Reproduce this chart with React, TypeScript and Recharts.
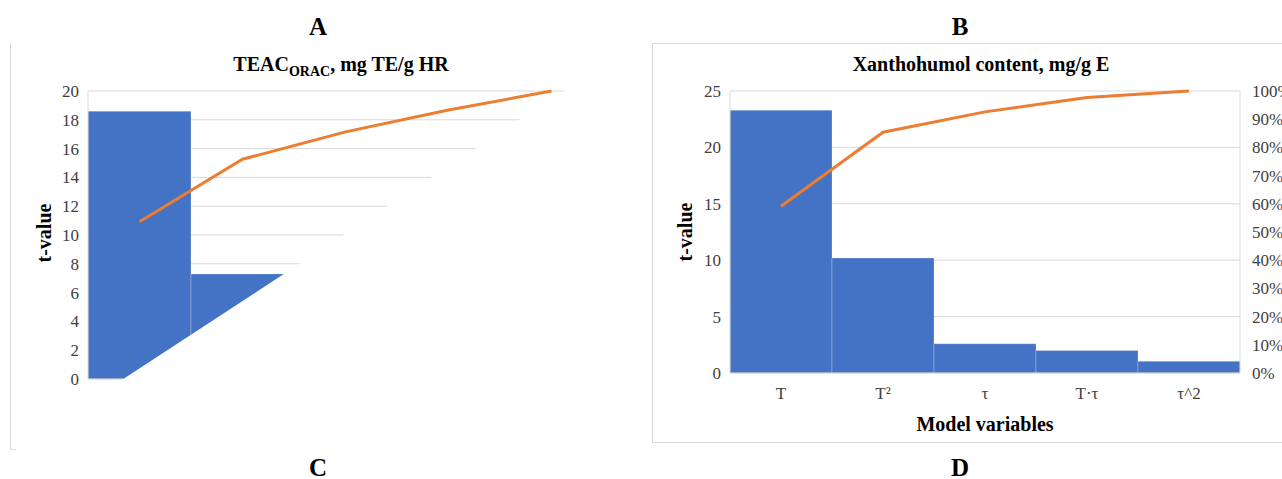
import { Bar, CartesianGrid, ComposedChart, Line, XAxis, YAxis } from 'recharts'

const VARIABLES = ['T', 'T²', 'τ', 'T·τ', 'τ^2']

// TEAC ORAC: t-values and cumulative share (%)
const TEAC_T = [18.6, 7.3, 3.4, 2.4, 2.4]
const TEAC_CUM = [54.6, 76.3, 85.8, 93.4, 100]
const TEAC_TICKS = [0, 2, 4, 6, 8, 10, 12, 14, 16, 18, 20]

// Xanthohumol content: t-values and cumulative share (%)
const XN_T = [23.3, 10.2, 2.6, 2.0, 1.04]
const XN_CUM = [59.1, 85.4, 92.6, 97.7, 100]
const XN_TICKS = [0, 5, 10, 15, 20, 25]

const PCT_TICKS = [0, 10, 20, 30, 40, 50, 60, 70, 80, 90, 100]

const FONT = '"Liberation Serif", "Times New Roman", serif'
const GRID = '#d9d9d9'
const BLUE = '#4472C4'
const ORANGE = '#ED7D31'

// serif tick text; dy places the text like the built-in ticks do
const makeTick = (dy: string, fmt: (v: any) => string = v => String(v)) => (props: any) => {
	const { x, y, payload, textAnchor } = props
	return (
		<text
			x={x}
			y={y}
			dy={dy}
			textAnchor={textAnchor}
			fill="#404040"
			style={{ fontFamily: FONT, fontSize: 17 }}
		>
			{fmt(payload.value)}
		</text>
	)
}

const xTick = makeTick('0.71em')
const tTick = makeTick('0.355em')
const pctTick = makeTick('0.355em', v => `${v}%`)

interface ParetoProps {
	width: number
	height: number
	tValues: number[]
	cumulative: number[]
	tTicks: number[]
	margin: { top: number; right: number; bottom: number; left: number }
	rightWidth: number
	// the cut-off panel only shows its left axis labels
	leftLabelsOnly?: boolean
}

const Pareto = ({ width, height, tValues, cumulative, tTicks, margin, rightWidth, leftLabelsOnly }: ParetoProps) => {
	const data = VARIABLES.map((name, i) => ({ name, t: tValues[i], cum: cumulative[i] }))
	return (
		<ComposedChart width={width} height={height} data={data} margin={margin} barCategoryGap={0}>
			<CartesianGrid yAxisId="t" vertical={false} stroke={GRID} />
			<XAxis
				dataKey="name"
				height={30}
				tickLine={false}
				tickSize={0}
				tickMargin={14}
				axisLine={{ stroke: GRID }}
				tick={leftLabelsOnly ? false : xTick}
				interval={0}
			/>
			<YAxis
				yAxisId="t"
				width={40}
				domain={[0, tTicks[tTicks.length - 1]]}
				ticks={tTicks}
				tickLine={false}
				tickSize={0}
				tickMargin={9}
				axisLine={{ stroke: GRID }}
				tick={tTick}
			/>
			<YAxis
				yAxisId="pct"
				orientation="right"
				width={rightWidth}
				domain={[0, 100]}
				ticks={PCT_TICKS}
				tickLine={false}
				tickSize={0}
				tickMargin={12}
				axisLine={{ stroke: GRID }}
				tick={leftLabelsOnly ? false : pctTick}
			/>
			<Bar
				yAxisId="t"
				dataKey="t"
				fill={BLUE}
				stroke="#ffffff"
				strokeOpacity={0.25}
				strokeWidth={1}
				isAnimationActive={false}
			/>
			<Line
				yAxisId="pct"
				dataKey="cum"
				type="linear"
				stroke={ORANGE}
				strokeWidth={3}
				dot={false}
				activeDot={false}
				isAnimationActive={false}
			/>
		</ComposedChart>
	)
}

const Letter = ({ x, y, children }: { x: number; y: number; children: string }) => (
	<div
		style={{
			position: 'absolute',
			left: x,
			top: y,
			transform: 'translateX(-50%)',
			fontSize: 25,
			lineHeight: '25px',
			fontWeight: 'bold',
		}}
	>
		{children}
	</div>
)

const Heading = ({ x, y, children }: { x: number; y: number; children: React.ReactNode }) => (
	<div
		style={{
			position: 'absolute',
			left: x,
			top: y,
			transform: 'translateX(-50%)',
			fontSize: 20,
			lineHeight: '20px',
			fontWeight: 'bold',
			whiteSpace: 'nowrap',
		}}
	>
		{children}
	</div>
)

const AxisTitle = ({ x, y, children }: { x: number; y: number; children: string }) => (
	<div
		style={{
			position: 'absolute',
			left: x,
			top: y,
			transform: 'translate(-50%, -50%) rotate(-90deg)',
			fontSize: 20,
			lineHeight: '20px',
			fontWeight: 'bold',
			whiteSpace: 'nowrap',
		}}
	>
		{children}
	</div>
)

export default function App() {
	return (
		<div
			style={{
				position: 'absolute',
				left: 0,
				top: 0,
				width: 1282,
				height: 479,
				overflow: 'hidden',
				background: '#fff',
				fontFamily: FONT,
				color: '#000',
			}}
		>
			<Letter x={318} y={14}>A</Letter>
			<Letter x={960} y={14}>B</Letter>
			<Letter x={318} y={455}>C</Letter>
			<Letter x={960} y={455}>D</Letter>

			{/* TEAC panel, cut off along a diagonal */}
			<div
				style={{
					position: 'absolute',
					left: 10,
					top: 43,
					width: 630,
					height: 407,
					borderLeft: `1px solid ${GRID}`,
					borderBottom: `1px solid ${GRID}`,
					boxSizing: 'border-box',
					clipPath: 'polygon(0 0, 627px 0, 0 410px)',
				}}
			>
				<Pareto
					width={629}
					height={406}
					tValues={TEAC_T}
					cumulative={TEAC_CUM}
					tTicks={TEAC_TICKS}
					margin={{ top: 48, right: 0, bottom: 40, left: 37 }}
					rightWidth={37}
					leftLabelsOnly
				/>
			</div>
			<Heading x={341} y={54}>
				TEAC<span style={{ fontSize: 14, position: 'relative', top: 5 }}>ORAC</span>, mg TE/g HR
			</Heading>
			<AxisTitle x={44} y={233}>t-value</AxisTitle>

			{/* Xanthohumol panel */}
			<div
				style={{
					position: 'absolute',
					left: 652,
					top: 43,
					width: 640,
					height: 400,
					border: `1px solid ${GRID}`,
					boxSizing: 'border-box',
				}}
			>
				<Pareto
					width={638}
					height={398}
					tValues={XN_T}
					cumulative={XN_CUM}
					tTicks={XN_TICKS}
					margin={{ top: 47, right: 0, bottom: 39, left: 37 }}
					rightWidth={51}
				/>
			</div>
			<Heading x={981} y={54}>Xanthohumol content, mg/g E</Heading>
			<AxisTitle x={685} y={232}>t-value</AxisTitle>
			<Heading x={985} y={414}>Model variables</Heading>
		</div>
	)
}
